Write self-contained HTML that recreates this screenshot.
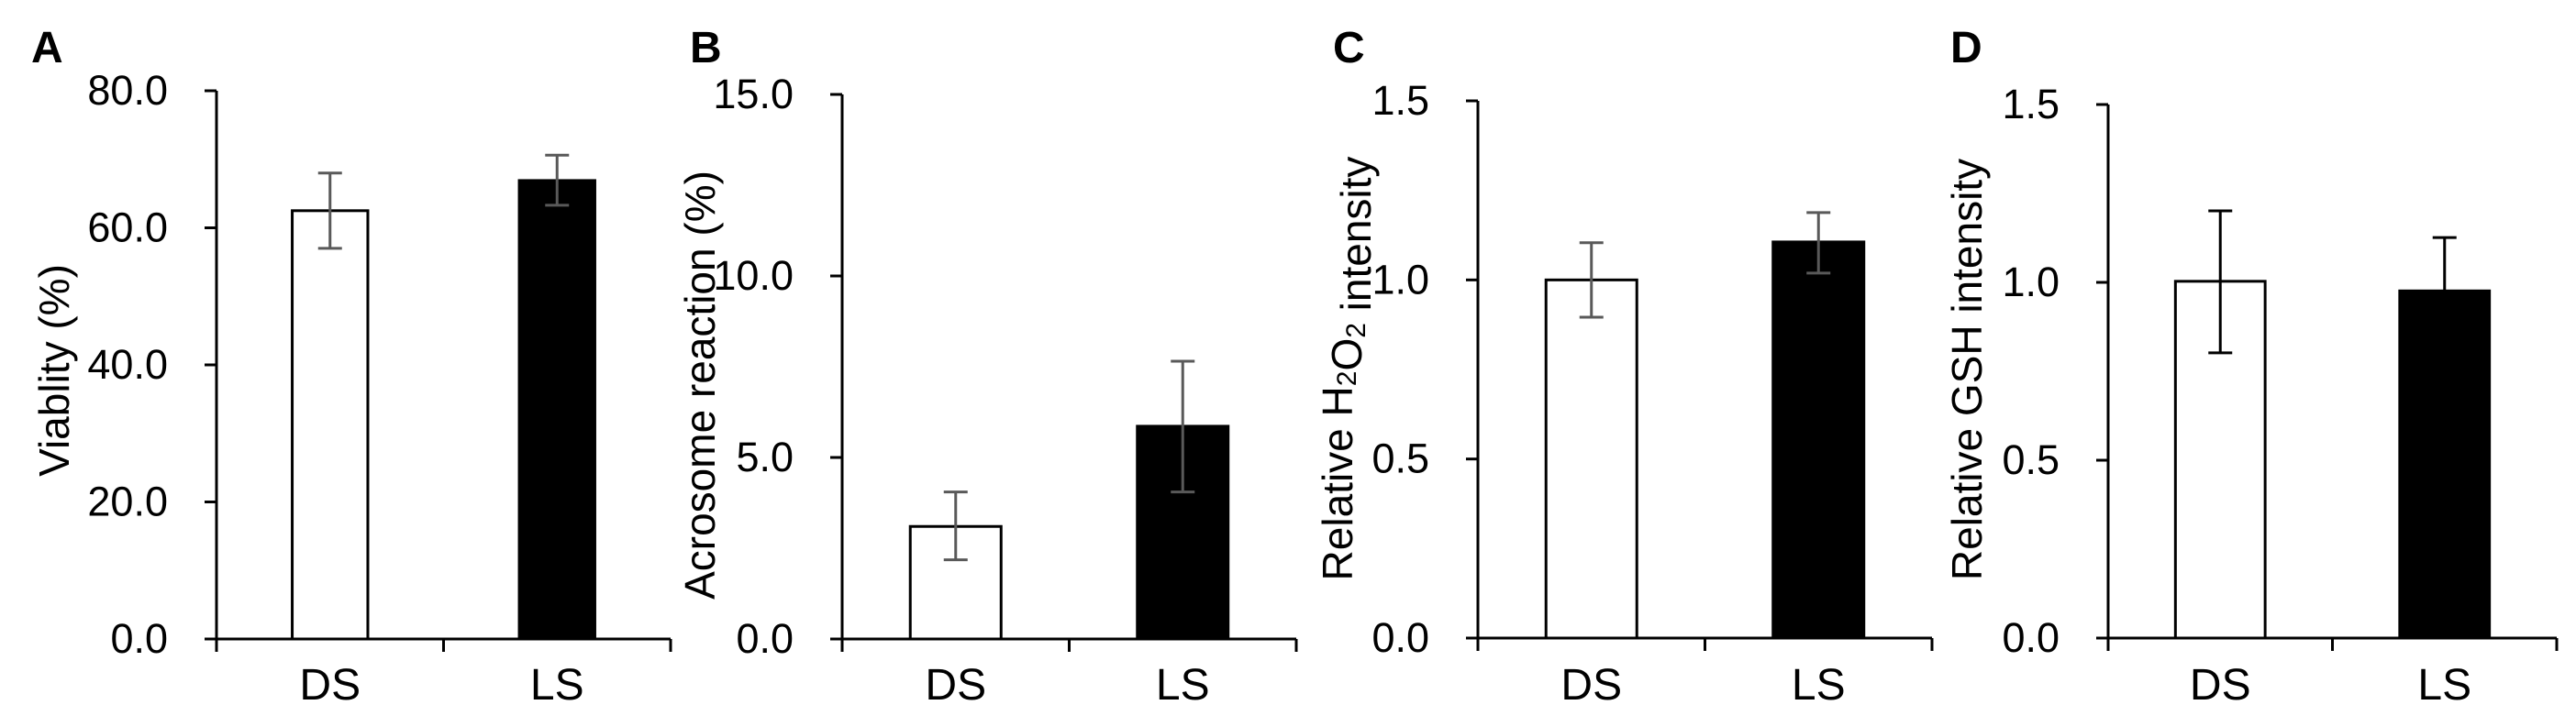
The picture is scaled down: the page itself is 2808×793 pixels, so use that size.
<!DOCTYPE html>
<html><head><meta charset="utf-8"><style>
html,body{margin:0;padding:0;background:#fff;}
svg{display:block;font-family:"Liberation Sans",Arial,sans-serif;}
</style></head><body>
<svg id="fig" width="2808" height="793" viewBox="0 0 2808 793" xmlns="http://www.w3.org/2000/svg"></svg>
<script>
const categories = ["DS","LS"];
const panelLetters = ["A","B","C","D"];
const yTitles = ["Viablity (%)","Acrosome reaction (%)","H2O2","Relative GSH intensity"];
const yMaxes = [80,15,1.5,1.5];
const yTickValues = [[0,20,40,60,80],[0,5,10,15],[0,0.5,1,1.5],[0,0.5,1,1.5]];
const yTickLabels = [["0.0","20.0","40.0","60.0","80.0"],["0.0","5.0","10.0","15.0"],["0.0","0.5","1.0","1.5"],["0.0","0.5","1.0","1.5"]];
const viabilityValues = [62.5, 66.9];
const viabilityErrHigh = [68.0, 70.6];
const viabilityErrLow = [57.0, 63.3];
const acrosomeValues = [3.1, 5.86];
const acrosomeErrHigh = [4.05, 7.65];
const acrosomeErrLow = [2.18, 4.05];
const h2o2Values = [1.0, 1.106];
const h2o2ErrHigh = [1.104, 1.188];
const h2o2ErrLow = [0.896, 1.019];
const gshValues = [1.003, 0.976];
const gshErrHigh = [1.201, 1.126];
const gshErrLow = [0.802, 0.826];

const seriesVals = [viabilityValues, acrosomeValues, h2o2Values, gshValues];
const seriesHi = [viabilityErrHigh, acrosomeErrHigh, h2o2ErrHigh, gshErrHigh];
const seriesLo = [viabilityErrLow, acrosomeErrLow, h2o2ErrLow, gshErrLow];

// layout (not data)
const layout = [
  {ax:236, right:731, top:99, base:697, barFrac:0.333, letterX:34, titleX:59, titleY:404, errColor:"#595959"},
  {ax:918, right:1413, top:103, base:697, barFrac:0.4, letterX:752, titleX:763, titleY:420, errColor:"#595959"},
  {ax:1611, right:2106, top:110, base:696, barFrac:0.4, letterX:1453, titleX:1458, titleY:402, errColor:"#595959"},
  {ax:2298, right:2787, top:114, base:696, barFrac:0.4, letterX:2126, titleX:2144, titleY:403, errColor:"#000"}
];
const NS = "http://www.w3.org/2000/svg";
const svg = document.getElementById("fig");
function mk(tag, attrs, parent){ const e=document.createElementNS(NS,tag); for(const k in attrs) e.setAttribute(k,attrs[k]); (parent||svg).appendChild(e); return e; }

layout.forEach((L,p)=>{
  const g = mk("g",{});
  
  
  const y = v => L.base - v / yMaxes[p] * (L.base - L.top);
  const catW = (L.right - L.ax) / categories.length;
  const xc = i => L.ax + catW * (i + 0.5);
  const lt = mk("text",{x:L.letterX, y:68, "font-size":48, "font-weight":"bold", fill:"#000"}, g);
  lt.textContent = panelLetters[p];
  
  
  categories.forEach((c,i)=>{
    const w = catW * L.barFrac;
    const r = mk("rect",{x:xc(i)-w/2, y:y(seriesVals[p][i]), width:w, height:L.base-y(seriesVals[p][i]), fill:i===0?"#fff":"#000", stroke:"#000", "stroke-width":3}, g);
    
    
    const eg = mk("g",{stroke:L.errColor, "stroke-width":3, fill:"none"}, g);
    
    
    const yh=y(seriesHi[p][i]), yl=y(seriesLo[p][i]), cx=xc(i);
    mk("line",{x1:cx,x2:cx,y1:yh,y2:yl},eg);
    mk("line",{x1:cx-13,x2:cx+13,y1:yh,y2:yh},eg);
    mk("line",{x1:cx-13,x2:cx+13,y1:yl,y2:yl},eg);
    const ct = mk("text",{x:cx, y:763, "font-size":48, "text-anchor":"middle", fill:"#000"}, g);
    ct.textContent = c;
    
    
  });
  const ax = mk("g",{stroke:"#000","stroke-width":3,fill:"none"},g);
  
  
  mk("line",{x1:L.ax,x2:L.ax,y1:L.top,y2:L.base},ax);
  mk("line",{x1:L.ax-13,x2:L.right,y1:L.base,y2:L.base},ax);
  for(let i=0;i<=categories.length;i++){ const tx=L.ax+catW*i; mk("line",{x1:tx,x2:tx,y1:L.base,y2:L.base+14},ax); }
  yTickValues[p].forEach((v,k)=>{
    mk("line",{x1:L.ax-13,x2:L.ax,y1:y(v),y2:y(v)},ax);
    const t = mk("text",{x:L.ax-53, y:y(v)+15, "font-size":45, "text-anchor":"end", fill:"#000"}, g);
    t.textContent = yTickLabels[p][k];
    
    
  });
  const tt = mk("text",{x:0,y:0,"font-size":46,"text-anchor":"middle","dominant-baseline":"central",fill:"#000",transform:`translate(${L.titleX},${L.titleY}) rotate(-90)`}, g);
  
  
  if (yTitles[p]==="H2O2"){
    const parts=[["Relative H",0],["2",1],["O",0],["2",1],[" intensity",0]];
    parts.forEach(([s,sub])=>{ const ts=mk("tspan",sub?{"font-size":30,dy:10}:{dy:0},tt); ts.textContent=s; if(sub){ const back=mk("tspan",{"font-size":46,dy:-10},tt); back.textContent=""; } });
  } else tt.textContent = yTitles[p];
});
</script>
</body></html>
